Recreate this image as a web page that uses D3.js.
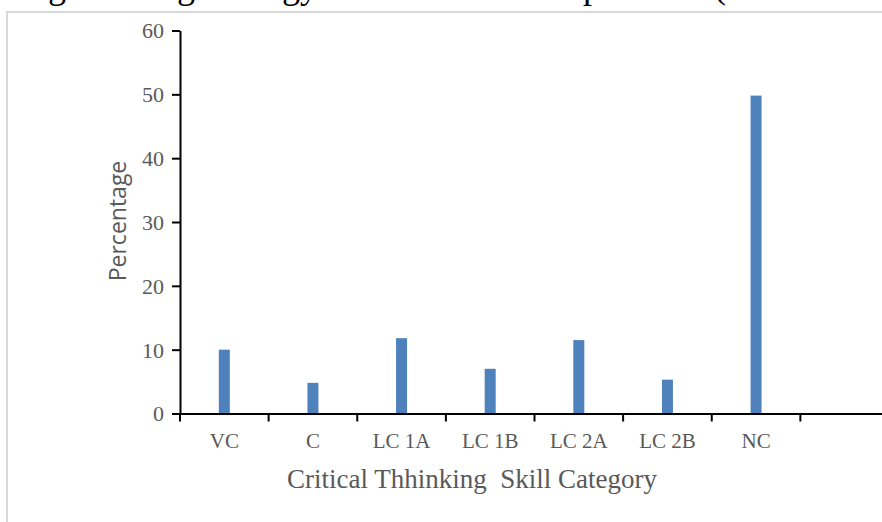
<!DOCTYPE html>
<html lang="en">
<head>
    <meta charset="UTF-8">
    <title>Critical Thinking Skill Category</title>
    <script src="https://cdnjs.cloudflare.com/ajax/libs/d3/7.8.5/d3.min.js"></script>
    <style type="text/css">
        body { margin: 0; background: #fff; }
        svg { display: block; }
        .tick text { fill: #595959; }
    </style>
</head>
<body>
    <div id="onlydiv"></div>
    <script type="text/javascript">

        // Data
        var categories = ["VC", "C", "LC 1A", "LC 1B", "LC 2A", "LC 2B", "NC", ""];
        var percentages = [10.0, 4.8, 11.8, 7.0, 11.5, 5.3, 49.8];
        var yTicks = [0, 10, 20, 30, 40, 50, 60];

        var w = 882;
        var h = 522;

        var svg = d3.select("#onlydiv")
            .append("svg")
            .attr("width", w)
            .attr("height", h);

        // caption of the page above, only its descenders show
        svg.append("text")
            .attr("x", -20)
            .attr("y", -2)
            .attr("font-family", "Liberation Serif, serif")
            .attr("font-size", 36)
            .attr("fill", "#000")
            .text("Using thinking strategy of the students in post-test (n = 120 students)");

        // chart frame
        svg.append("path")
            .attr("d", "M7,523 V12 H883")
            .attr("fill", "none")
            .attr("stroke", "#d9d9d9")
            .attr("stroke-width", 2);

        // scales
        var xScale = d3.scaleBand()
            .domain(categories)
            .range([180, 889]);

        var yScale = d3.scaleLinear()
            .domain([0, 60])
            .range([413.5, 30.5]);

        var barWidth = 11;

        // bars
        svg.selectAll("rect.bar")
            .data(percentages)
            .enter()
            .append("rect")
            .attr("class", "bar")
            .attr("x", function(d, i) { return xScale(categories[i]) + xScale.bandwidth() / 2 - barWidth / 2; })
            .attr("y", function(d) { return yScale(d); })
            .attr("width", barWidth)
            .attr("height", function(d) { return yScale(0) - yScale(d); })
            .attr("fill", "#4f81bd");

        // y axis
        var yAxis = d3.axisLeft(yScale)
            .tickValues(yTicks)
            .tickSize(8)
            .tickPadding(8)
            .tickSizeOuter(0);

        var yG = svg.append("g")
            .attr("transform", "translate(180,0)")
            .call(yAxis);
        yG.selectAll("path, line").attr("stroke", "#000").attr("stroke-width", 2);
        yG.selectAll("text")
            .attr("font-family", "Liberation Serif, serif")
            .attr("font-size", 22)
            .attr("dy", "0.34em");

        // x axis, labels centred, ticks at band edges
        var xAxis = d3.axisBottom(xScale)
            .tickSize(0)
            .tickPadding(20)
            .tickSizeOuter(0);

        var xG = svg.append("g")
            .attr("transform", "translate(0," + yScale(0) + ")")
            .call(xAxis);
        xG.select("path").attr("stroke", "#000").attr("stroke-width", 2);
        xG.selectAll("text")
            .attr("font-family", "Liberation Serif, serif")
            .attr("font-size", 21);

        xG.selectAll("line.edge")
            .data(categories)
            .enter()
            .append("line")
            .attr("class", "edge")
            .attr("x1", function(d) { return xScale(d); })
            .attr("x2", function(d) { return xScale(d); })
            .attr("y1", 0)
            .attr("y2", 8)
            .attr("stroke", "#000")
            .attr("stroke-width", 2);

        // axis titles
        svg.append("text")
            .attr("x", 472)
            .attr("y", 488)
            .attr("text-anchor", "middle")
            .attr("font-family", "Liberation Serif, serif")
            .attr("font-size", 27)
            .attr("fill", "#595959")
            .style("white-space", "pre")
            .text("Critical Thhinking  Skill Category");

        svg.append("text")
            .attr("transform", "translate(126,221) rotate(-90)")
            .attr("text-anchor", "middle")
            .attr("font-family", "Open Sans, sans-serif")
            .attr("font-size", 23)
            .attr("fill", "#595959")
            .text("Percentage");

    </script>
</body>
</html>
